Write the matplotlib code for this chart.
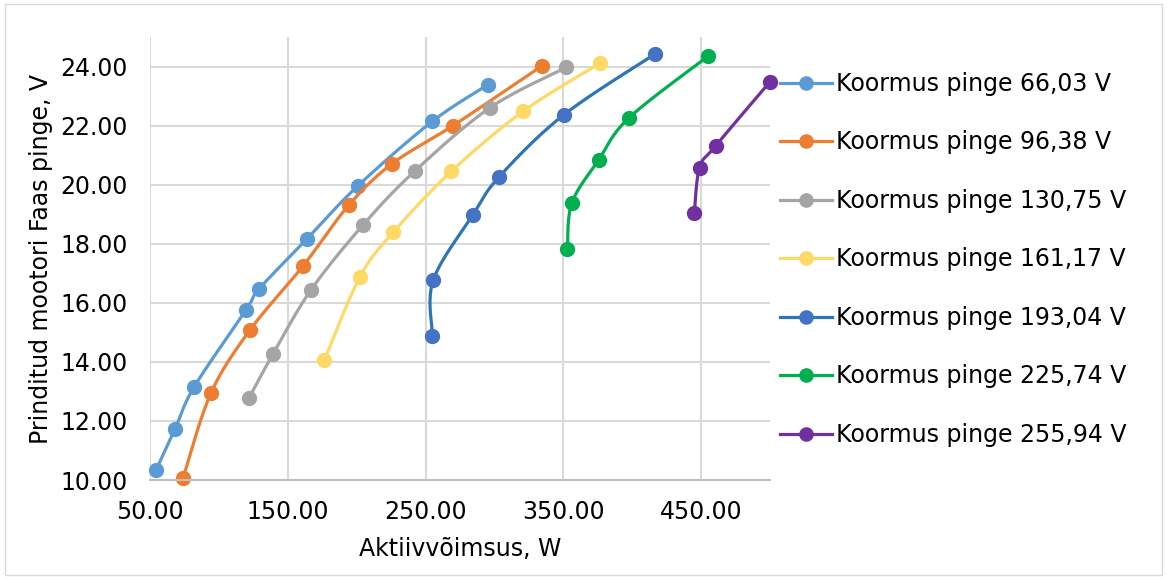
import numpy as np
import matplotlib
matplotlib.use("Agg")
import matplotlib.pyplot as plt
from matplotlib.patches import Rectangle

labels = ["Koormus pinge 66,03 V", "Koormus pinge 96,38 V", "Koormus pinge 130,75 V",
          "Koormus pinge 161,17 V", "Koormus pinge 193,04 V", "Koormus pinge 225,74 V",
          "Koormus pinge 255,94 V"]

x1 = [54.4, 68.2, 82.0, 119.7, 129.2, 164.0, 201.1, 254.8, 295.5]
y1 = [10.34, 11.73, 13.15, 15.76, 16.47, 18.17, 19.97, 22.14, 23.39]
x2 = [74.0, 94.3, 122.6, 161.1, 194.5, 225.7, 270.0, 334.7]
y2 = [10.07, 12.95, 15.08, 17.25, 19.32, 20.71, 22.00, 24.03]
x3 = [121.9, 139.3, 166.9, 204.7, 242.4, 296.9, 352.1]
y3 = [12.78, 14.27, 16.44, 18.64, 20.47, 22.61, 23.97]
x4 = [176.6, 202.5, 226.7, 268.7, 320.7, 376.8]
y4 = [14.07, 16.89, 18.40, 20.45, 22.48, 24.12]
x5 = [255.0, 255.5, 284.1, 303.5, 350.2, 416.7]
y5 = [14.89, 16.76, 18.96, 20.27, 22.36, 24.43]
x6 = [353.0, 356.2, 375.8, 397.6, 455.0]
y6 = [17.83, 19.38, 20.85, 22.26, 24.35]
x7 = [445.1, 448.9, 460.5, 499.7]
y7 = [19.05, 20.58, 21.31, 23.47]

xs = [x1, x2, x3, x4, x5, x6, x7]
ys = [y1, y2, y3, y4, y5, y6, y7]
line_colors = ["#5B9BD5", "#ED7D31", "#A5A5A5", "#FFD966", "#2E75B6", "#00B050", "#7030A0"]
marker_colors = ["#5B9BD5", "#ED7D31", "#A5A5A5", "#FFD966", "#4472C4", "#00B050", "#7030A0"]

xticks = [50, 150, 250, 350, 450]
yticks = [10, 12, 14, 16, 18, 20, 22, 24]


def smooth(ax, x, y, n=30):
    """Bezier-like smoothing (Catmull-Rom) in display space, as Excel smoothed lines."""
    pts = ax.transData.transform(np.column_stack([x, y]))
    out = []
    m = len(pts)
    for i in range(m - 1):
        p0 = pts[i - 1] if i > 0 else pts[i]
        p1 = pts[i]
        p2 = pts[i + 1]
        p3 = pts[i + 2] if i + 2 < m else pts[i + 1]
        c1 = p1 + (p2 - p0) / 6.0
        c2 = p2 - (p3 - p1) / 6.0
        t = np.linspace(0, 1, n)[:, None]
        seg = ((1 - t) ** 3) * p1 + 3 * ((1 - t) ** 2) * t * c1 + 3 * (1 - t) * t ** 2 * c2 + t ** 3 * p2
        out.append(seg if i == 0 else seg[1:])
    out = np.vstack(out)
    d = ax.transData.inverted().transform(out)
    return d[:, 0], d[:, 1]


FS = 17
plt.rcParams['font.family'] = ['DejaVu Sans']
fig = plt.figure(figsize=(11.67, 5.79), dpi=100)
fig.patches.append(Rectangle((0.004, 0.007), 0.992, 0.986, transform=fig.transFigure,
                             fill=False, edgecolor="#d9d9d9", linewidth=1.0))
ax = fig.add_axes([150 / 1167, 1 - 480 / 579, 620 / 1167, 443 / 579])
ax.set_xlim(50, 500)
ax.set_ylim(10, 25)
ax.set_xticks(xticks)
ax.set_yticks(yticks)
ax.set_xticklabels([f"{v:.2f}" for v in xticks])
ax.set_yticklabels([f"{v:.2f}" for v in yticks])
ax.grid(True, color="#d9d9d9", linewidth=1.5)
ax.set_axisbelow(True)
for s in ["top", "right", "left"]:
    ax.spines[s].set_visible(False)
ax.spines["bottom"].set_color("#bfbfbf")
ax.spines["bottom"].set_linewidth(1.5)
ax.tick_params(length=0, labelsize=FS, colors="#000000")
ax.tick_params(axis="x", pad=14.5)
ax.tick_params(axis="y", pad=16)
ax.set_xlabel("Aktiivvõimsus, W", fontsize=FS, labelpad=9)
ax.set_ylabel("Prinditud mootori Faas pinge, V", fontsize=FS, labelpad=5)

fig.canvas.draw()
handles = []
for x, y, lc, mc, lab in zip(xs, ys, line_colors, marker_colors, labels):
    sx, sy = smooth(ax, x, y)
    ax.plot(sx, sy, color=lc, linewidth=2.3, solid_capstyle="round", clip_on=False)
    ax.plot(x, y, linestyle="none", marker="o", markersize=10, color=mc, clip_on=False)
    h, = ax.plot([], [], color=lc, linewidth=2.3, marker="o", markersize=9.5,
                 markerfacecolor=mc, markeredgecolor=mc)
    handles.append(h)

fig.legend(handles, labels, loc="upper left", bbox_to_anchor=(780 / 1167, 1 - 72 / 579),
           frameon=False, fontsize=FS, handlelength=2.19, handletextpad=0.2,
           labelspacing=1.46, borderaxespad=0, borderpad=0)
fig.savefig("out.png", dpi=100)
